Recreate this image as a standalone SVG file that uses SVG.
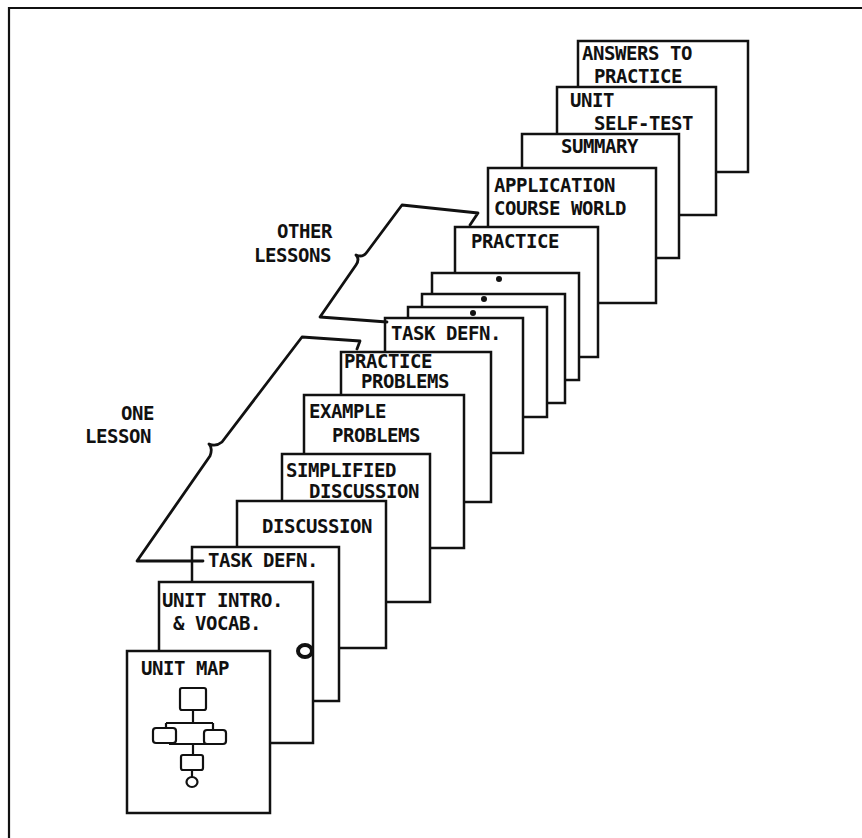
<svg xmlns="http://www.w3.org/2000/svg" width="862" height="838" viewBox="0 0 862 838">
<style>
.card{fill:#fff;stroke:#111;stroke-width:2.5}
.t{font-family:"DejaVu Sans Mono","Liberation Mono",monospace;font-weight:bold;font-size:19px;letter-spacing:-0.45px;fill:#111}
.br{fill:none;stroke:#111;stroke-width:2.8;stroke-linejoin:round;stroke-linecap:round}
.ln{fill:none;stroke:#111;stroke-width:2.2}
.dot{fill:#111}
</style>
<rect width="862" height="838" fill="#fff"/>
<g id="frame"><path class="ln" d="M9,838 V8 H862"/></g>

<g id="answers"><rect class="card" x="578" y="41" width="170" height="131"/>
<text class="t" x="582" y="60">ANSWERS TO</text>
<text class="t" x="594" y="83">PRACTICE</text></g>
<g id="selftest"><rect class="card" x="557" y="87" width="159" height="128"/>
<text class="t" x="570" y="107">UNIT</text>
<text class="t" x="594" y="130">SELF-TEST</text></g>
<g id="summary"><rect class="card" x="522" y="134" width="157" height="124"/>
<text class="t" x="561" y="153">SUMMARY</text></g>
<g id="application"><rect class="card" x="488" y="168" width="168" height="135"/>
<text class="t" x="494" y="192">APPLICATION</text>
<text class="t" x="494" y="215">COURSE WORLD</text></g>
<g id="practice"><rect class="card" x="455" y="227" width="143" height="130"/>
<text class="t" x="471" y="248">PRACTICE</text></g>
<g id="lessonC"><rect class="card" x="432" y="273" width="147" height="107"/><circle class="dot" cx="499" cy="279" r="3"/></g>
<g id="lessonB"><rect class="card" x="422" y="294" width="143" height="109"/><circle class="dot" cx="484" cy="299" r="3"/></g>
<g id="lessonA"><rect class="card" x="408" y="307" width="139" height="110"/><circle class="dot" cx="473" cy="313" r="3"/></g>
<g id="taskdefn2"><rect class="card" x="385" y="318" width="138" height="135"/>
<text class="t" x="391" y="340">TASK DEFN.</text></g>
<g id="practiceproblems"><rect class="card" x="341" y="352" width="150" height="150"/>
<text class="t" x="344" y="368">PRACTICE</text>
<text class="t" x="361" y="388">PROBLEMS</text></g>
<g id="exampleproblems"><rect class="card" x="304" y="395" width="160" height="153"/>
<text class="t" x="309" y="418">EXAMPLE</text>
<text class="t" x="332" y="442">PROBLEMS</text></g>
<g id="simplified"><rect class="card" x="282" y="454" width="148" height="148"/>
<text class="t" x="286" y="477">SIMPLIFIED</text>
<text class="t" x="309" y="498">DISCUSSION</text></g>
<g id="discussion"><rect class="card" x="237" y="501" width="149" height="147"/>
<text class="t" x="262" y="533">DISCUSSION</text></g>
<g id="taskdefn1"><rect class="card" x="192" y="547" width="147" height="154"/>
<text class="t" x="208" y="567">TASK DEFN.</text></g>
<g id="unitintro"><rect class="card" x="159" y="582" width="154" height="161"/>
<text class="t" x="162" y="607">UNIT INTRO.</text>
<text class="t" x="173" y="630">&amp; VOCAB.</text>
<ellipse cx="305" cy="651" rx="7" ry="6" fill="none" stroke="#111" stroke-width="4"/></g>
<g id="unitmap"><rect class="card" x="127" y="651" width="143" height="162"/>
<text class="t" x="141" y="675">UNIT MAP</text>
<rect class="ln" x="180" y="688" width="26" height="22" rx="2"/>
<path class="ln" d="M193,710 V723 M166,723 H213 M166,723 V728 M213,723 V730 M169,744 H212 M193,744 V755 M192,770 V777"/>
<rect class="ln" x="153" y="728" width="23" height="15" rx="3"/>
<rect class="ln" x="204" y="730" width="22" height="14" rx="3"/>
<rect class="ln" x="181" y="755" width="22" height="15" rx="2"/>
<ellipse class="ln" cx="192" cy="782" rx="5.5" ry="5"/></g>

<g id="connectors">
<path class="br" d="M203,561 H137 L210,456 Q213,448 209,444 Q216,447 222,442 L302,337 L360,341 L357,349"/>
<path class="br" d="M387,322 L320,317 L356,265 Q360,259 356,255 Q363,258 367,252 L402,205 L478,213 L470,225"/>
</g>
<g id="labels">
<text class="t" x="277" y="238">OTHER</text>
<text class="t" x="254" y="262">LESSONS</text>
<text class="t" x="121" y="420">ONE</text>
<text class="t" x="85" y="443">LESSON</text>
</g>
</svg>
